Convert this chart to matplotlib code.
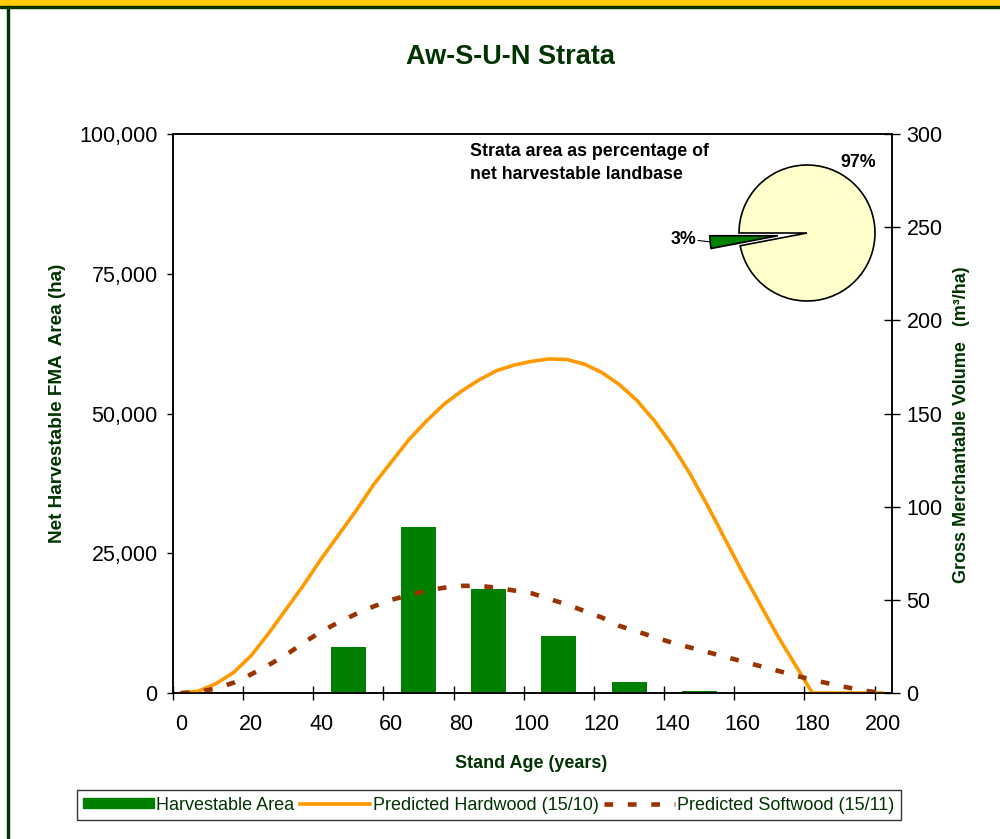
import matplotlib.pyplot as plt
from matplotlib.patches import Rectangle, Patch
from matplotlib.ticker import FuncFormatter

plt.rcParams['font.family'] = ['Liberation Sans', 'DejaVu Sans']

# harvestable area by 20-year age class (class midpoints, years)
class_mid = [10, 30, 50, 70, 90, 110, 130, 150, 170, 190]
area_ha = [0, 200, 8300, 29700, 18600, 10200, 2000, 400, 150, 0]

# yield curves (m3/ha) by stand age
age = list(range(0, 205, 5))
hardwood = [0, 1, 5, 11, 20, 32, 45, 58, 72, 85, 98, 112, 124, 136, 146, 155,
            162, 168, 173, 176, 178, 179.3, 179, 176.5, 172, 165.5, 157, 146,
            133, 118, 101, 83, 65, 48, 31, 15.5, 0, 0, 0, 0, 0]
softwood = [0, 0.5, 2.5, 5.5, 10, 15, 20.5, 27, 33, 38, 42.5, 46.5, 50, 52.5,
            55, 56.5, 57.5, 57.5, 56.5, 55, 53.5, 50.5, 47.5, 44, 40.5, 36, 33,
            30, 27, 24.5, 22, 19.5, 17, 14.5, 12, 9.5, 7, 5, 3, 1.2, 0]

# pie: strata share of net harvestable landbase
pie_labels = ['3%', '97%']
pie_share = [3, 97]

dark_green = '#003300'
bar_green = '#008000'
orange = '#FF9900'
brown = '#993300'

cat_shift = -2.25  # category axis sits slightly left of the age scale

fig = plt.figure(figsize=(10, 8.39), dpi=100)

# frame decoration
fig.patches.append(Rectangle((0, 1 - 5.7 / 839), 1, 5.7 / 839, transform=fig.transFigure,
                             color='#FFCC00', zorder=0))
fig.patches.append(Rectangle((0, 1 - 7.7 / 839), 1, 2.2 / 839, transform=fig.transFigure,
                             color=dark_green, zorder=0))
fig.patches.append(Rectangle((0.007, 0), 0.002, 1 - 5.7 / 839, transform=fig.transFigure,
                             color=dark_green, zorder=0))

ax = fig.add_axes([0.173, 0.174, 0.719, 0.6663])
ax2 = ax.twinx()

bar_x = [m + cat_shift for m in class_mid]
ax.bar(bar_x, area_ha, width=10, color=bar_green, zorder=2)

hw, = ax2.plot(age, hardwood, color=orange, lw=2.6, solid_joinstyle='round')
sw, = ax2.plot(age, softwood, color=brown, lw=3.3, dashes=(1.9, 3.2), dash_capstyle='butt')

ax.set_xlim(-2.25, 202.7)
ax.set_ylim(0, 100000)
ax2.set_ylim(0, 300)
ax.set_yticks(range(0, 100001, 25000))
ax2.set_yticks(range(0, 301, 50))
ax.yaxis.set_major_formatter(FuncFormatter(lambda v, p: f'{int(v):,}'))

ax.set_xticks(range(0, 201, 20))
edges = [m - 10 + cat_shift for m in class_mid] + [class_mid[-1] + 10 + cat_shift]
ax.set_xticks(edges, minor=True)
ax.tick_params(axis='x', which='major', length=0, pad=15, labelsize=15.5)
ax.tick_params(axis='x', which='minor', direction='inout', length=10, width=1)
ax.tick_params(axis='y', direction='out', length=4.5, width=1, pad=6.5, labelsize=15.5)
ax2.tick_params(axis='y', direction='inout', length=11, width=1, pad=5, labelsize=15.5)

for a in (ax, ax2):
    for s in a.spines.values():
        s.set_linewidth(1.1)
        s.set_color('black')

fig.text(0.51, 1 - 57 / 839, 'Aw-S-U-N Strata', ha='center', va='center',
         fontsize=19.5, weight='bold', color=dark_green)
fig.text(0.531, 1 - 763 / 839, 'Stand Age (years)', ha='center', va='center',
         fontsize=13, weight='bold', color=dark_green)
fig.text(0.057, 1 - 403 / 839, 'Net Harvestable FMA  Area (ha)', rotation=90,
         ha='center', va='center', fontsize=13.6, weight='bold', color=dark_green)
fig.text(0.961, 1 - 425 / 839, 'Gross Merchantable Volume   (m³/ha)', rotation=90,
         ha='center', va='center', fontsize=13, weight='bold', color=dark_green)

fig.text(0.47, 1 - 163 / 839, 'Strata area as percentage of\nnet harvestable landbase',
         ha='left', va='center', fontsize=12.8, weight='bold', color='black',
         linespacing=1.45)

# pie inset
pax = fig.add_axes([0.687, (839 - 233 - 120) / 839, 0.24, 240 / 839])
pax.pie(pie_share, colors=[bar_green, '#FFFFCC'], startangle=180, counterclock=True,
        explode=[0.43, 0], wedgeprops=dict(edgecolor='black', linewidth=1.2))
lim = 120 / 68
pax.set_xlim(-lim, lim)
pax.set_ylim(-lim, lim)
pax.set_aspect('equal')
pax.axis('off')
pax.text(0.76, 1.04, pie_labels[1], ha='center', va='center', fontsize=12.8,
         weight='bold', clip_on=False)
pax.text(-1.62, -0.1, pie_labels[0], ha='right', va='center', fontsize=12.8,
         weight='bold', clip_on=False)
pax.plot([-1.6, -1.43], [-0.11, -0.13], color='black', lw=0.8, clip_on=False)

handles = [Patch(color=bar_green), hw, sw]
leg = fig.legend(handles, ['Harvestable Area', 'Predicted Hardwood (15/10)',
                           'Predicted Softwood (15/11)'],
                 loc='center', bbox_to_anchor=(0.489, 1 - 805 / 839), ncol=3,
                 fontsize=13, handlelength=3.9, handleheight=0.5, handletextpad=0.15,
                 columnspacing=0.3, borderpad=0.35, frameon=True, fancybox=False,
                 edgecolor='black', labelcolor=dark_green)
leg.get_frame().set_linewidth(1)

fig.savefig('out.png', dpi=100)
